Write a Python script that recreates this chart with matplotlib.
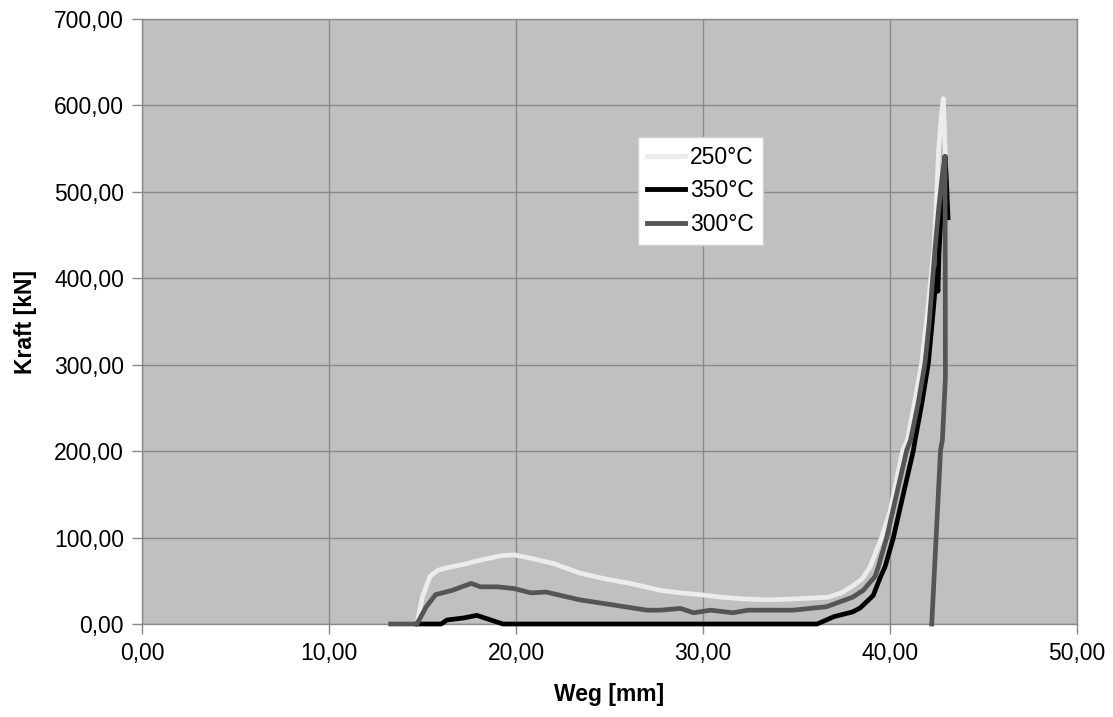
import matplotlib
matplotlib.use("Agg")
import matplotlib.pyplot as plt
from matplotlib.ticker import FuncFormatter

plt.rcParams["font.family"] = ["Liberation Sans", "DejaVu Sans"]

# Weg [mm] / Kraft [kN] readings per temperature
weg_250 = [14.7, 15.0, 15.4, 15.8, 16.3, 17.2, 18.1, 19.2, 19.9, 20.8, 22.0, 23.4,
           24.8, 26.1, 27.7, 28.8, 30.0, 31.0, 32.2, 33.5, 34.8, 35.8, 36.7, 37.4,
           38.0, 38.5, 38.93, 39.55, 40.0, 40.68, 40.93, 41.3, 41.69, 42.0, 42.28,
           42.35, 42.5, 42.6, 42.75, 42.85, 42.95]
kraft_250 = [0, 32, 55, 62, 65, 69, 74, 79, 80, 76, 70, 59,
             52, 47, 39, 36, 33.6, 31, 29, 28, 29, 30, 31, 36,
             44, 52, 66, 100, 130, 201, 213, 255, 302, 360, 421,
             433, 499, 550, 590, 608, 545]

weg_350 = [14.7, 16.0, 16.3, 17.2, 17.9, 18.6, 19.3, 36.1, 37.0, 38.0, 38.4, 39.1,
           39.5, 39.73, 40.18, 40.6, 41.25, 41.34, 41.7, 42.05, 42.3, 42.5, 42.56,
           42.62, 42.8, 42.94, 43.0, 43.1]
kraft_350 = [0, 0, 4.6, 7, 10, 5, 0, 0, 8.5, 14, 18.5, 33,
             55, 66, 100, 140, 201, 213, 255, 302, 360, 410, 385,
             430, 500, 541, 520, 470]

weg_300 = [13.3, 14.7, 15.2, 15.7, 16.6, 17.6, 18.1, 19.0, 19.9, 20.8, 21.6, 23.4,
           25.2, 27.0, 27.7, 28.8, 29.5, 30.4, 31.6, 32.4, 34.8, 36.6, 38.0, 38.57,
           39.2, 39.37, 39.82, 40.2, 40.89, 41.1, 41.5, 41.87, 42.1, 42.4, 42.6,
           42.8, 42.94, 42.96, 42.8, 42.7, 42.23]
kraft_300 = [0, 0, 20, 34, 39, 47, 43, 43, 41, 36, 37, 28,
             22, 16, 16, 18, 13, 16, 13, 16, 16, 20, 31, 39,
             55, 66, 100, 136, 201, 213, 255, 302, 350, 433, 480,
             520, 541, 285, 213, 201, 0]

def komma(v, pos):
    return f"{v:.2f}".replace(".", ",")

fig = plt.figure(figsize=(11.13, 7.17), dpi=100)
ax = fig.add_axes([0.1276, 0.1297, 0.8401, 0.8438])
ax.set_facecolor("#c0c0c0")

ax.plot(weg_250, kraft_250, color="#ececec", lw=3.4, label="250°C", clip_on=False, zorder=3)
ax.plot(weg_350, kraft_350, color="#000000", lw=3.4, label="350°C", clip_on=False, zorder=4)
ax.plot(weg_300, kraft_300, color="#555555", lw=3.4, label="300°C", clip_on=False, zorder=5)

ax.set_xlim(0, 50)
ax.set_ylim(0, 700)
ax.set_xticks(range(0, 51, 10))
ax.set_yticks(range(0, 701, 100))
ax.xaxis.set_major_formatter(FuncFormatter(komma))
ax.yaxis.set_major_formatter(FuncFormatter(komma))
ax.tick_params(labelsize=16.5, length=7, color="#888888", width=1, pad=6)
ax.grid(color="#8a8a8a", lw=1)
ax.set_axisbelow(True)
for s in ax.spines.values():
    s.set_color("#8a8a8a")
    s.set_linewidth(1)

ax.set_xlabel("Weg [mm]", fontsize=16.5, fontweight="bold", labelpad=13)
ax.set_ylabel("Kraft [kN]", fontsize=16.5, fontweight="bold", labelpad=12)

leg = ax.legend(loc="upper left", bbox_to_anchor=(0.530, 0.805), fontsize=16.5,
                frameon=True, fancybox=False, handlelength=1.65, handletextpad=0.25,
                labelspacing=0.45, borderpad=0.4, borderaxespad=0)
leg.get_frame().set_facecolor("white")
leg.get_frame().set_edgecolor("#d0d0d0")
leg.get_frame().set_alpha(1)
for line in leg.get_lines():
    line.set_linewidth(3.5)

fig.savefig("out.png", dpi=100)
